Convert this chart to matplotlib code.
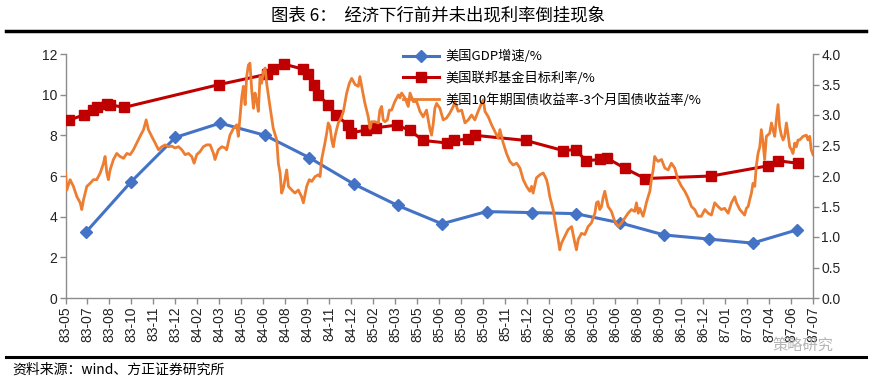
import matplotlib
matplotlib.use("Agg")
import matplotlib.pyplot as plt
from matplotlib.lines import Line2D

# ---------------- data ----------------
tick_labels = ["83-05", "83-07", "83-08", "83-10", "83-11", "83-12", "84-02", "84-03",
               "84-05", "84-06", "84-08", "84-09", "84-11", "84-12", "85-02", "85-03",
               "85-05", "85-06", "85-08", "85-09", "85-11", "85-12", "86-02", "86-03",
               "86-05", "86-06", "86-08", "86-09", "86-10", "86-12", "87-01", "87-03",
               "87-04", "87-06", "87-07"]

# GDP growth (left axis), x as position on category axis
gdp_x = [0.94, 2.97, 5.0, 7.03, 9.08, 11.09, 13.12, 15.11, 17.12, 19.15, 21.2, 23.2,
         25.21, 27.23, 29.25, 31.25, 33.27]
gdp_v = [3.25, 5.7, 7.9, 8.6, 8.0, 6.9, 5.6, 4.55, 3.65, 4.25, 4.2, 4.15,
         3.7, 3.1, 2.9, 2.7, 3.35]

# Fed funds target rate (left axis)
fed_x = [0.17, 0.82, 1.27, 1.43, 1.88, 2.03, 2.67, 7.0, 9.15, 9.45, 9.95, 10.82, 11.05,
         11.32, 11.5, 11.95, 12.3, 12.86, 12.97, 13.65, 14.12, 15.06, 15.67, 16.25,
         17.34, 17.68, 18.29, 18.62, 20.93, 22.64, 23.2, 23.67, 24.3, 24.64, 25.45,
         26.36, 29.38, 31.95, 32.41, 33.32]
fed_v = [8.75, 9.0, 9.25, 9.4, 9.56, 9.5, 9.375, 10.5, 11.0, 11.25, 11.5, 11.25, 11.0,
         10.5, 10.0, 9.5, 9.0, 8.5, 8.125, 8.25, 8.375, 8.5, 8.25, 7.75,
         7.625, 7.75, 7.8125, 8.0, 7.75, 7.25, 7.3, 6.75, 6.8125, 6.875, 6.375,
         5.875, 6.0, 6.5, 6.75, 6.625]

# 10Y - 3M treasury spread (right axis)
spr_x = [0.0, 0.06, 0.21, 0.36, 0.52, 0.67, 0.74, 0.82, 0.97, 1.12, 1.27, 1.42, 1.58, 1.73,
         1.80, 1.88, 1.95, 2.03, 2.18, 2.33, 2.48, 2.64, 2.79, 2.94, 3.09, 3.24, 3.39,
         3.55, 3.67, 3.77, 3.92, 4.08, 4.23, 4.38, 4.53, 4.68, 4.83, 4.98, 5.14, 5.29,
         5.44, 5.59, 5.74, 5.85, 5.97, 6.12, 6.27, 6.42, 6.58, 6.73, 6.80, 6.95, 7.11,
         7.26, 7.33, 7.48, 7.64, 7.79, 7.86, 7.94, 8.02, 8.09, 8.17, 8.24, 8.32, 8.39,
         8.47, 8.55, 8.62, 8.70, 8.77, 8.85, 8.92, 9.00, 9.08, 9.15, 9.30, 9.45, 9.61,
         9.68, 9.76, 9.83, 9.91, 10.06, 10.14, 10.29, 10.44, 10.59, 10.74, 10.82, 10.97,
         11.09, 11.20, 11.35, 11.50, 11.58, 11.65, 11.80, 11.88, 11.95, 12.03, 12.11,
         12.18, 12.26, 12.33, 12.41, 12.56, 12.64, 12.79, 12.91, 13.02, 13.17, 13.32,
         13.39, 13.47, 13.62, 13.77, 13.85, 13.92, 14.08, 14.23, 14.30, 14.38, 14.45,
         14.53, 14.64, 14.73, 14.83, 14.98, 15.14, 15.21, 15.29, 15.44, 15.59, 15.67,
         15.82, 15.97, 16.05, 16.12, 16.27, 16.42, 16.58, 16.65, 16.73, 16.80, 16.88,
         17.03, 17.18, 17.33, 17.48, 17.64, 17.71, 17.86, 18.02, 18.17, 18.32, 18.47,
         18.62, 18.77, 18.92, 19.00, 19.08, 19.23, 19.38, 19.53, 19.68, 19.76, 19.91,
         20.06, 20.21, 20.36, 20.52, 20.67, 20.82, 20.97, 21.12, 21.20, 21.27, 21.42,
         21.58, 21.73, 21.88, 21.95, 22.03, 22.18, 22.33, 22.41, 22.48, 22.56, 22.71,
         22.86, 23.02, 23.17, 23.24, 23.32, 23.47, 23.62, 23.77, 23.92, 24.08, 24.15,
         24.23, 24.30, 24.38, 24.45, 24.53, 24.61, 24.68, 24.83, 24.98, 25.14, 25.29,
         25.44, 25.59, 25.74, 25.89, 25.97, 26.05, 26.12, 26.27, 26.35, 26.42, 26.50,
         26.58, 26.65, 26.73, 26.80, 26.88, 26.95, 27.11, 27.26, 27.41, 27.56, 27.71,
         27.86, 28.02, 28.17, 28.32, 28.47, 28.62, 28.77, 28.92, 29.08, 29.23, 29.38,
         29.53, 29.68, 29.83, 29.98, 30.14, 30.29, 30.44, 30.52, 30.67, 30.82, 30.89,
         30.97, 31.05, 31.12, 31.20, 31.27, 31.35, 31.42, 31.50, 31.58, 31.65, 31.73,
         31.80, 31.88, 32.03, 32.11, 32.18, 32.26, 32.33, 32.41, 32.48, 32.56, 32.64,
         32.71, 32.79, 32.86, 32.94, 33.02, 33.09, 33.17, 33.24, 33.32, 33.39, 33.55,
         33.70, 33.77, 33.85, 33.92, 34.0]
spr_v = [2.05, 1.77, 1.94, 1.83, 1.66, 1.56, 1.45, 1.61, 1.83, 1.88, 1.94, 1.94, 2.05, 2.21,
         2.32, 2.05, 1.94, 2.10, 2.27, 2.37, 2.32, 2.29, 2.37, 2.35, 2.43, 2.54, 2.65,
         2.76, 2.92, 2.76, 2.65, 2.54, 2.43, 2.48, 2.51, 2.48, 2.49, 2.46, 2.48, 2.43,
         2.35, 2.37, 2.32, 2.21, 2.35, 2.40, 2.48, 2.51, 2.51, 2.37, 2.27, 2.43, 2.48,
         2.46, 2.43, 2.67, 2.78, 2.84, 2.65, 2.97, 3.30, 3.47, 3.17, 3.63, 3.82, 3.85,
         3.41, 3.11, 3.36, 3.22, 3.06, 3.63, 3.52, 3.71, 3.77, 3.52, 3.14, 2.78, 2.59,
         2.21, 2.05, 1.72, 1.80, 2.10, 1.83, 1.77, 1.72, 1.77, 1.66, 1.56, 1.83,
         1.94, 1.91, 1.99, 2.02, 1.99, 2.27, 2.54, 2.70, 2.87, 2.81, 2.59,
         2.48, 2.65, 2.76, 2.87, 2.97, 3.06, 3.36, 3.52, 3.60, 3.50, 3.47,
         3.63, 3.47, 3.19, 2.97, 2.78, 2.89, 2.89, 2.87, 3.08, 3.14, 2.92,
         2.89, 2.92, 3.08, 3.08, 3.22, 3.33, 3.28, 3.36, 3.28, 3.14, 3.36,
         3.22, 3.22, 3.14, 3.06, 2.97, 3.08, 2.76, 2.67, 2.87, 3.11, 3.19,
         3.11, 2.92, 2.95, 3.03, 3.14, 3.22, 3.06, 3.08, 2.87, 2.92, 3.00,
         2.92, 3.06, 3.19, 3.25, 3.06, 2.97, 2.84, 2.73, 2.62, 2.76, 2.54,
         2.37, 2.24, 2.18, 2.21, 2.13, 1.94, 1.83, 1.75, 1.83, 1.72, 1.97,
         2.02, 2.05, 1.94, 1.83, 1.66, 1.45, 1.12, 0.96, 0.79, 0.90, 1.01,
         1.12, 1.17, 0.90, 0.79, 0.96, 1.06, 1.04, 1.17, 1.23, 1.39, 1.56,
         1.58, 1.45, 1.50, 1.64, 1.75, 1.61, 1.50, 1.42, 1.26, 1.17, 1.23,
         1.31, 1.39, 1.45, 1.42, 1.56, 1.39, 1.47, 1.34, 1.45, 1.56, 1.66,
         1.75, 1.94, 2.10, 2.32, 2.27, 2.24, 2.27, 2.13, 2.10, 2.21, 2.13,
         1.94, 1.83, 1.75, 1.64, 1.50, 1.45, 1.34, 1.34, 1.45, 1.39, 1.36,
         1.56, 1.50, 1.45, 1.47, 1.39, 1.56, 1.66, 1.56, 1.45, 1.39, 1.36,
         1.47, 1.50, 1.61, 1.72, 1.88, 1.83, 2.16, 2.37, 2.48, 2.76, 2.54,
         2.27, 2.65, 2.70, 2.87, 2.76, 2.65, 2.92, 3.17, 2.81, 2.67, 2.59,
         2.65, 2.87, 2.70, 2.48, 2.43, 2.37, 2.54, 2.48, 2.59, 2.59, 2.65,
         2.67, 2.59, 2.65, 2.43, 2.35]

labels = ["美国GDP增速/%", "美国联邦基金目标利率/%", "美国10年期国债收益率-3个月国债收益率/%"]
title = "图表 6：  经济下行前并未出现利率倒挂现象"
source = "资料来源：wind、方正证券研究所"

# ---------------- style ----------------
CJK = ["Noto Sans CJK SC", "DejaVu Sans"]
LAT = ["Liberation Sans", "DejaVu Sans"]
axis_gray = "#8c8c8c"
c_blue, c_red, c_orange = "#4472C4", "#C00000", "#ED7D31"

W, H = 870, 381
fig = plt.figure(figsize=(W / 100, H / 100), dpi=100)
fig.patch.set_facecolor("white")

x0, x1, ytop, ybot = 65.5, 813, 54, 298
ax = fig.add_axes([x0 / W, 1 - ybot / H, (x1 - x0) / W, (ybot - ytop) / H])
ax.set_xlim(0, len(tick_labels) - 1)
ax.set_ylim(0, 12)
ax2 = ax.twinx()
ax2.set_ylim(0, 4)

h1, = ax.plot(gdp_x, gdp_v, color=c_blue, lw=2.2, marker="D", ms=6.5, zorder=3)
h2, = ax.plot(fed_x, fed_v, color=c_red, lw=2.2, marker="s", ms=7, zorder=3)
h3, = ax2.plot(spr_x, spr_v, color=c_orange, lw=2.0, zorder=2)

for a in (ax, ax2):
    a.spines["top"].set_visible(False)
    for s in ("left", "right", "bottom"):
        a.spines[s].set_color(axis_gray)
        a.spines[s].set_linewidth(1.0)
ax.spines["right"].set_visible(False)
ax2.spines["left"].set_visible(False)
ax2.spines["bottom"].set_visible(False)

ax.set_yticks(range(0, 13, 2))
ax.set_yticklabels([str(v) for v in range(0, 13, 2)], family=LAT, fontsize=10)
ax2.set_yticks([i * 0.5 for i in range(9)])
ax2.set_yticklabels([f"{i * 0.5:.1f}" for i in range(9)], family=LAT, fontsize=10)
ax.set_xticks(range(len(tick_labels)))
ax.set_xticklabels(tick_labels, rotation=90, family=LAT, fontsize=10)
ax.tick_params(axis="both", direction="out", length=4, color=axis_gray, width=1.0,
               labelcolor="#222222", pad=2)
ax2.tick_params(axis="y", direction="out", length=4, color=axis_gray, width=1.0,
                labelcolor="#222222", pad=2)
ax.set_facecolor("none")
ax2.set_facecolor("none")

leg = fig.legend([h1, h2, h3], labels, loc="upper left",
                 bbox_to_anchor=(398 / W, 1 - 45 / H), frameon=False,
                 prop={"family": CJK, "size": 9.5}, handlelength=2.7,
                 labelspacing=0.62, handletextpad=0.5, borderaxespad=0)

fig.text(0.503, 1 - 16 / H, title, ha="center", va="center", family=CJK, fontsize=12.5)
fig.add_artist(Line2D([6 / W, 866 / W], [1 - 31 / H] * 2, color="black", lw=2.5))
fig.add_artist(Line2D([6 / W, 866 / W], [1 - 357 / H] * 2, color="black", lw=2.2))
fig.text(12 / W, 1 - 370 / H, source, ha="left", va="center", family=CJK,
         fontsize=10, style="italic")
fig.text(803 / W, 1 - 345 / H, "策略研究", ha="center", va="center", family=CJK,
         fontsize=11, color="#b5b5b5")

fig.savefig("out.png", dpi=100, facecolor="white")
